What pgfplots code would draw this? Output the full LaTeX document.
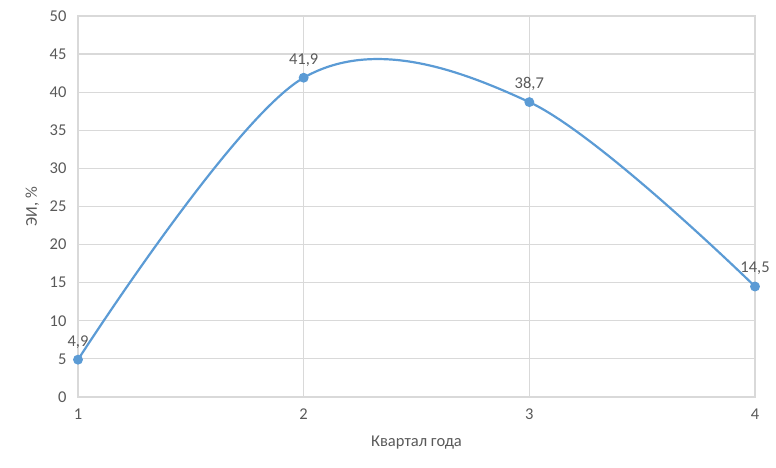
\documentclass[border=0pt]{standalone}
\usepackage{pgfplots}
\pgfplotsset{compat=1.18}
\usepackage{fontspec}
\setmainfont{Carlito}
\definecolor{lineblue}{RGB}{91,155,213}
\definecolor{gridgray}{RGB}{217,217,217}
\definecolor{textgray}{RGB}{89,89,89}

\begin{document}
\begin{tikzpicture}
\begin{axis}[
    scale only axis,
    width=677pt,
    height=381pt,
    xmin=1, xmax=4,
    ymin=0, ymax=50,
    xtick={1,2,3,4},
    ytick={0,5,...,50},
    grid=major,
    major grid style={gridgray, line width=1.2pt},
    axis line style={gridgray, line width=1.2pt},
    major tick length=0pt,
    tick label style={font=\fontsize{16.5}{19}\selectfont, text=textgray},
    /pgf/number format/assume math mode=true,
    yticklabel style={xshift=-8pt},
    xticklabel style={yshift=-8pt},
    xlabel={Квартал года},
    ylabel={ЭИ, \%},
    label style={font=\fontsize{16.5}{19}\selectfont, text=textgray},
    xlabel style={yshift=-10pt},
    ylabel style={yshift=4pt},
    clip=false,
    nodes near coords,
    nodes near coords style={font=\fontsize{16.5}{19}\selectfont, text=textgray,
        /pgf/number format/.cd, fixed, fixed zerofill, precision=1, use comma,
        assume math mode=true, /tikz/.cd, yshift=7pt},
]
\addplot[lineblue, line width=2.2pt, smooth, tension=0.56,
    mark=*, mark size=3.8pt, mark options={fill=lineblue, draw=lineblue}]
coordinates {
    (1,4.9)
    (2,41.9)
    (3,38.7)
    (4,14.5)
};
\end{axis}
\path[use as bounding box] ([xshift=-78pt,yshift=-71pt]current axis.south west)
    rectangle ([xshift=21pt,yshift=16pt]current axis.north east);
\end{tikzpicture}
\end{document}
